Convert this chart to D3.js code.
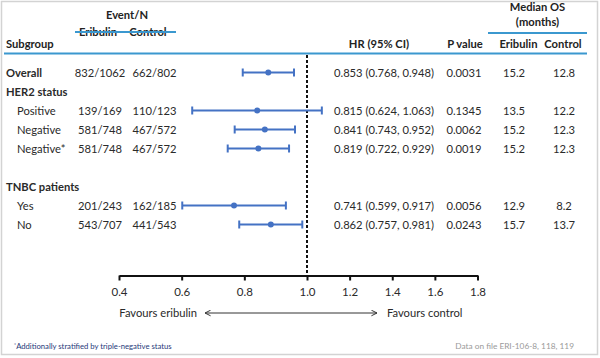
<!DOCTYPE html>
<html>
<head>
<meta charset="utf-8">
<script src="https://cdn.jsdelivr.net/npm/d3@7"></script>
<style>
  body { margin: 0; background: #fff; }
  text { font-family: "Lato", "Open Sans", sans-serif; }
</style>
</head>
<body>
<svg id="chart" width="600" height="358"></svg>
<script>
// rows of the table (blank string = spacer row)
var subgroups = ["Overall", "HER2 status", "Positive", "Negative", "Negative*", "", "TNBC patients", "Yes", "No"];
var isHeading = [true, true, false, false, false, false, true, false, false];
var eventsEribulin = ["832/1062", "", "139/169", "581/748", "581/748", "", "", "201/243", "543/707"];
var eventsControl = ["662/802", "", "110/123", "467/572", "467/572", "", "", "162/185", "441/543"];
var hr = [0.853, null, 0.815, 0.841, 0.819, null, null, 0.741, 0.862];
var ciLow = [0.768, null, 0.624, 0.743, 0.722, null, null, 0.599, 0.757];
var ciHigh = [0.948, null, 1.063, 0.952, 0.929, null, null, 0.917, 0.981];
var pValues = ["0.0031", "", "0.1345", "0.0062", "0.0019", "", "", "0.0056", "0.0243"];
var medianEribulin = ["15.2", "", "13.5", "15.2", "15.2", "", "", "12.9", "15.7"];
var medianControl = ["12.8", "", "12.2", "12.3", "12.3", "", "", "8.2", "13.7"];
var axisTicks = [0.4, 0.6, 0.8, 1.0, 1.2, 1.4, 1.6, 1.8];

var svg = d3.select("#chart");
var teal = "#3b98cf", blue = "#4472c4", ink = "#222";

// frame
svg.append("rect")
    .attr("x", 1.5).attr("y", 1.5)
    .attr("width", 596).attr("height", 353)
    .attr("fill", "none").attr("stroke", "#d3d3d3").attr("stroke-width", 1.5);

var y = d3.scaleBand().domain(d3.range(subgroups.length)).range([63, 234]);
var rowY = function(i) { return y(i) + y.bandwidth() / 2; };

// marks use a log scale, the printed axis is spaced linearly on each side of 1
var x = d3.scaleLog().domain([0.4, 1.8]).range([84, 450]);
var axisScale = d3.scaleLinear().domain([0.4, 1.0, 1.8]).range([119, 307, 477.5]);

// header
function head(txt, cx, by, anchor) {
    svg.append("text").attr("x", cx).attr("y", by)
        .attr("text-anchor", anchor || "middle")
        .attr("font-size", 11.2).attr("font-weight", "bold").attr("fill", ink)
        .text(txt);
}
head("Event/N", 127, 19);
head("Eribulin", 98, 36);
head("Control", 148, 36);
head("Subgroup", 6, 48, "start");
head("Median OS", 537.5, 11);
head("(months)", 537.5, 26);
head("HR (95% CI)", 379, 48);
head("P value", 465, 48);
head("Eribulin", 518.5, 48);
head("Control", 563, 48);

svg.append("line").attr("x1", 75).attr("x2", 176).attr("y1", 32).attr("y2", 32)
    .attr("stroke", teal).attr("stroke-width", 2);
svg.append("line").attr("x1", 488).attr("x2", 587).attr("y1", 33).attr("y2", 33)
    .attr("stroke", teal).attr("stroke-width", 2);
svg.append("line").attr("x1", 4).attr("x2", 587).attr("y1", 53.5).attr("y2", 53.5)
    .attr("stroke", teal).attr("stroke-width", 2);

// table text
var rows = svg.append("g").selectAll("g")
    .data(subgroups).enter().append("g")
    .attr("transform", function(d, i) { return "translate(0," + (rowY(i) + 4) + ")"; })
    .attr("font-size", 11.2).attr("fill", "#2a2a2a");

rows.append("text")
    .attr("x", function(d, i) { return isHeading[i] ? 6 : 17; })
    .attr("font-weight", function(d, i) { return isHeading[i] ? "bold" : "normal"; })
    .text(function(d) { return d; });
rows.append("text").attr("x", 100).attr("text-anchor", "middle")
    .text(function(d, i) { return eventsEribulin[i]; });
rows.append("text").attr("x", 154.5).attr("text-anchor", "middle")
    .text(function(d, i) { return eventsControl[i]; });
rows.append("text").attr("x", 334)
    .text(function(d, i) {
        return hr[i] == null ? "" : hr[i].toFixed(3) + " (" + ciLow[i].toFixed(3) + ", " + ciHigh[i].toFixed(3) + ")";
    });
rows.append("text").attr("x", 464).attr("text-anchor", "middle")
    .text(function(d, i) { return pValues[i]; });
rows.append("text").attr("x", 514).attr("text-anchor", "middle")
    .text(function(d, i) { return medianEribulin[i]; });
rows.append("text").attr("x", 564).attr("text-anchor", "middle")
    .text(function(d, i) { return medianControl[i]; });

// reference line at HR = 1
svg.append("line")
    .attr("x1", axisScale(1)).attr("x2", axisScale(1))
    .attr("y1", 55).attr("y2", 275)
    .attr("stroke", "#111").attr("stroke-width", 2).attr("stroke-dasharray", "3,2");

// confidence intervals
var idx = d3.range(subgroups.length).filter(function(i) { return hr[i] != null; });
var ci = svg.append("g").selectAll("g").data(idx).enter().append("g")
    .attr("stroke", blue).attr("stroke-width", 2).attr("fill", blue);
ci.append("line")
    .attr("x1", function(i) { return x(ciLow[i]); })
    .attr("x2", function(i) { return x(ciHigh[i]); })
    .attr("y1", function(i) { return rowY(i); })
    .attr("y2", function(i) { return rowY(i); });
ci.append("line")
    .attr("x1", function(i) { return x(ciLow[i]); })
    .attr("x2", function(i) { return x(ciLow[i]); })
    .attr("y1", function(i) { return rowY(i) - 4; })
    .attr("y2", function(i) { return rowY(i) + 4; });
ci.append("line")
    .attr("x1", function(i) { return x(ciHigh[i]); })
    .attr("x2", function(i) { return x(ciHigh[i]); })
    .attr("y1", function(i) { return rowY(i) - 4; })
    .attr("y2", function(i) { return rowY(i) + 4; });
ci.append("circle")
    .attr("cx", function(i) { return x(hr[i]); })
    .attr("cy", function(i) { return rowY(i); })
    .attr("r", 3).attr("stroke", "none");

// axis
var axis = svg.append("g")
    .attr("transform", "translate(0,275.5)")
    .call(d3.axisBottom(axisScale).tickValues(axisTicks).tickSize(5).tickSizeOuter(0)
        .tickPadding(7).tickFormat(d3.format(".1f")));
axis.select(".domain").attr("stroke", "#111").attr("stroke-width", 2);
axis.selectAll(".tick line").attr("stroke", "#111").attr("stroke-width", 2);
axis.selectAll(".tick text").attr("font-family", "Lato, sans-serif")
    .attr("font-size", 11.5).attr("fill", "#2a2a2a");

// favours arrow
svg.append("defs").append("marker")
    .attr("id", "arr")
    .attr("viewBox", "0 0 10 10").attr("refX", 9).attr("refY", 5)
    .attr("markerWidth", 7).attr("markerHeight", 7).attr("orient", "auto-start-reverse")
    .append("path").attr("d", "M1,1 L9,5 L1,9").attr("fill", "none").attr("stroke", "#333").attr("stroke-width", 1.4);
svg.append("line")
    .attr("x1", 205).attr("x2", 377).attr("y1", 313).attr("y2", 313)
    .attr("stroke", "#333").attr("stroke-width", 1)
    .attr("marker-start", "url(#arr)").attr("marker-end", "url(#arr)");
svg.append("text").attr("x", 197).attr("y", 317).attr("text-anchor", "end")
    .attr("font-size", 11.2).attr("fill", "#2a2a2a").text("Favours eribulin");
svg.append("text").attr("x", 387).attr("y", 317)
    .attr("font-size", 11.2).attr("fill", "#2a2a2a").text("Favours control");

// footnotes
var fn = svg.append("text").attr("x", 14).attr("y", 349)
    .attr("font-size", 7.7).attr("fill", "#1f3a7a");
fn.append("tspan").attr("font-size", 5).attr("dy", -2).text("*");
fn.append("tspan").attr("dy", 2).text("Additionally stratified by triple-negative status");
svg.append("text").attr("x", 574).attr("y", 348.5).attr("text-anchor", "end")
    .attr("font-family", "Liberation Sans, Arial, sans-serif")
    .attr("font-size", 8.3).attr("fill", "#9a9a9a").text("Data on file ERI-106-8, 118, 119");
</script>
</body>
</html>
